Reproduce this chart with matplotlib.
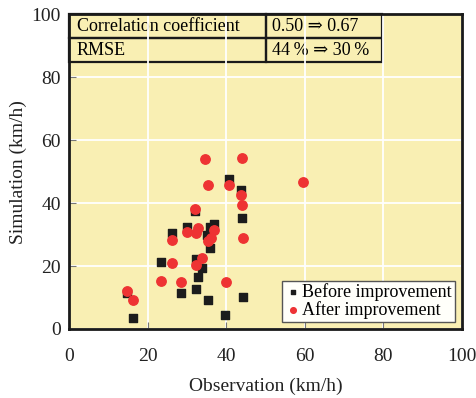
import matplotlib.pyplot as plt

plt.rcParams['font.family'] = ['Liberation Serif', 'DejaVu Serif']

# before improvement (black squares)
obs_before = [14.8, 16.2, 23.5, 26.1, 28.6, 29.9, 32.0, 32.2, 32.4, 32.9, 33.9,
              35.1, 35.4, 36.0, 36.0, 36.9, 39.8, 40.7, 43.8, 44.1, 44.3]
sim_before = [11.4, 3.4, 21.3, 30.5, 11.5, 32.3, 37.6, 22.2, 12.7, 16.6, 19.5,
              29.8, 9.1, 25.9, 32.3, 33.3, 4.5, 47.7, 44.2, 35.2, 10.2]

# after improvement (red circles)
obs_after = [14.8, 16.2, 23.5, 26.3, 26.1, 28.6, 29.9, 32.0, 32.3, 32.9, 32.2,
             33.9, 34.7, 35.4, 35.3, 36.2, 36.9, 39.9, 40.7, 43.8, 44.1, 44.1,
             44.3, 59.5]
sim_after = [12.1, 9.1, 15.2, 21.1, 28.3, 14.8, 30.8, 38.1, 30.4, 32.0, 20.2,
             22.7, 54.1, 45.9, 28.0, 29.0, 31.6, 14.8, 45.9, 42.6, 39.4, 54.5,
             28.8, 46.6]

table_rows = [['Correlation coefficient', '0.50 \u21d2 0.67'],
              ['RMSE', '44\u2009% \u21d2 30\u2009%']]

fig = plt.figure(figsize=(4.76, 3.98), dpi=100)
ax = fig.add_axes([0.145, 0.1734, 0.8256, 0.7902])
ax.set_facecolor('#f9efb3')

ax.scatter(obs_before, sim_before, marker='s', s=28, color='#1c1c1c',
           zorder=3, label='Before improvement')
ax.scatter(obs_after, sim_after, marker='o', s=46, color='#ee3333',
           zorder=4, label='After improvement')

ax.set_xlim(0, 100)
ax.set_ylim(0, 100)
ax.set_xticks(range(0, 101, 20))
ax.set_yticks(range(0, 101, 20))
ax.grid(True, color='white', linewidth=1.3)
ax.set_axisbelow(True)
ax.tick_params(direction='in', length=5, color='#777777', labelsize=14,
               labelcolor='#222222')
ax.tick_params(axis='x', pad=14)
ax.tick_params(axis='y', pad=6)
for s in ax.spines.values():
    s.set_linewidth(2)
    s.set_color('#1a1a1a')

ax.set_xlabel('Observation (km/h)', fontsize=14, color='#222222', labelpad=9)
ax.set_ylabel('Simulation (km/h)', fontsize=14, color='#222222', labelpad=3)

tb = ax.table(cellText=table_rows, cellLoc='left', colWidths=[0.63, 0.37],
              bbox=[0, 0.848, 0.796, 0.152])
tb.auto_set_font_size(False)
for (r, c), cell in tb.get_celld().items():
    cell.set_facecolor('none')
    cell.set_edgecolor('#1a1a1a')
    cell.set_linewidth(1.6)
    cell.get_text().set_fontsize(13)
    cell.PAD = 0.04 if c == 0 else 0.05

leg = ax.legend(loc='lower right', fontsize=13, frameon=True, fancybox=False,
                borderaxespad=0.4, labelspacing=0.0, handletextpad=0.1,
                borderpad=0.15, markerscale=0.6, handlelength=0.9)
leg.get_frame().set_edgecolor('#555555')
leg.get_frame().set_facecolor('#fffffa')
leg.get_frame().set_linewidth(1)
leg.get_frame().set_alpha(1)

fig.savefig('out.png', dpi=100)
